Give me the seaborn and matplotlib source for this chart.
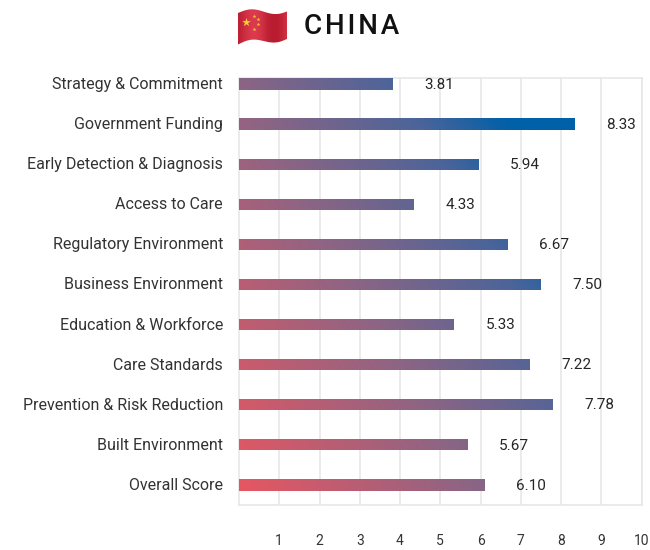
import numpy as np
import pandas as pd
import matplotlib
matplotlib.use("Agg")
import matplotlib.pyplot as plt
from matplotlib.colors import LinearSegmentedColormap
from matplotlib.patches import PathPatch
from matplotlib.path import Path
from matplotlib.transforms import ScaledTranslation
import seaborn as sns

# Index scores by category, top to bottom
categories = [
    "Strategy & Commitment", "Government Funding", "Early Detection & Diagnosis",
    "Access to Care", "Regulatory Environment", "Business Environment",
    "Education & Workforce", "Care Standards", "Prevention & Risk Reduction",
    "Built Environment", "Overall Score",
]
scores = [3.81, 8.33, 5.94, 4.33, 6.67, 7.50, 5.33, 7.22, 7.78, 5.67, 6.10]
x_ticks = [1, 2, 3, 4, 5, 6, 7, 8, 9, 10]

W, H = 650, 550
sns.set_theme(style="white")
plt.rcParams["font.family"] = ["Roboto", "DejaVu Sans"]
TEXT = "#262626"
GRID = "#e6e6e6"

fig = plt.figure(figsize=(W / 100, H / 100), dpi=100, facecolor="white")
ax = fig.add_axes([239 / W, 1 - 505 / H, 402.5 / W, 427 / H])

df = pd.DataFrame({"category": categories, "score": scores})
sns.barplot(data=df, x="score", y="category", orient="h", width=0.28,
            color="white", saturation=1, ax=ax, zorder=3)

ax.set_xlim(0, 10)
ax.set_ylim(10.5, -0.15)

# Diagonal red-to-blue wash shared by all bars, clipped to each bar
ramp = LinearSegmentedColormap.from_list(
    "ramp", [(0, "#EA5660"), (0.5, "#8B6585"), (0.82, "#4A649A"), (1, "#0060A8")])
gx, gy = np.meshgrid(np.linspace(0, 1, 400), np.linspace(0, 1, 400))
wash = np.clip(gx * 0.82 + (1 - gy) * 0.50, 0, 1)
for bar in ax.patches:
    bar.set_edgecolor("none")
    img = ax.imshow(wash, cmap=ramp, vmin=0, vmax=1, origin="upper",
                    extent=[0, 10, 10.5, -0.15], aspect="auto", zorder=4,
                    interpolation="bilinear")
    img.set_clip_path(bar)
ax.set_xlim(0, 10)
ax.set_ylim(10.5, -0.15)

# Score labels sit a fixed distance past the bar end
for i, v in enumerate(scores):
    ax.annotate(f"{v:.2f}", (v, i), xytext=(23, -0.5), textcoords="offset points",
                ha="left", va="center", fontsize=11, color=TEXT, zorder=5)

ax.set_xlabel("")
ax.set_ylabel("")
ax.set_xticks(x_ticks)
ax.grid(axis="x", color=GRID, lw=1.1, zorder=0)
ax.set_axisbelow(True)
for s in ax.spines.values():
    s.set_color(GRID)
    s.set_linewidth(1.1)
ax.tick_params(axis="x", length=0, pad=21, labelsize=10, labelcolor="#333333")
ax.tick_params(axis="y", length=0, pad=11.5, labelsize=11.5, labelcolor="#333333")

# Nudge the category names up slightly relative to the bars
nudge = ScaledTranslation(0, 1 / 100, fig.dpi_scale_trans)
for lab in ax.get_yticklabels():
    lab.set_transform(lab.get_transform() + nudge)

# Country heading
fig.text(304 / W, 1 - 26 / H, "C\u200aH\u200aI\u200aN\u200aA", fontsize=20,
         fontweight="medium", color="#111111", ha="left", va="center")

# Waving flag emblem, drawn in pixel space
fx = fig.add_axes([0, 0, 1, 1], facecolor="none")
fx.set_xlim(0, W)
fx.set_ylim(H, 0)
fx.axis("off")
t = np.linspace(0, 1, 40)
top_x = 238 + 49 * t
top_y = 13 - 3.0 * np.sin(t * 2.0 * np.pi * 0.95) - 2.5 * t
bot_y = 44.5 - 3.0 * np.sin(t * 2.0 * np.pi * 0.95) - 6.5 * t
outline = np.vstack([np.c_[top_x, top_y], np.c_[top_x[::-1], bot_y[::-1]]])
flag = PathPatch(Path(outline), fc="none", ec="none")
fx.add_patch(flag)
shade = 0.5 + 0.5 * np.sin(np.linspace(0, 1, 200) * 2.0 * np.pi * 1.2 - 0.9)
flag_cmap = LinearSegmentedColormap.from_list("flag", ["#B81C2E", "#DC3A4E"])
im = fx.imshow(shade[None, :], cmap=flag_cmap, extent=[238, 287, 46, 8],
               aspect="auto", zorder=2)
im.set_clip_path(flag)
fx.set_xlim(0, W)
fx.set_ylim(H, 0)
fx.scatter([246], [22], marker="*", s=42, c="#F6D02F", linewidths=0, zorder=3)
fx.scatter([254, 257.5, 257.5, 254], [15.5, 19, 24, 28.5], marker="*", s=8,
           c="#F6D02F", linewidths=0, zorder=3)

fig.savefig("out.png", dpi=100, facecolor="white")
